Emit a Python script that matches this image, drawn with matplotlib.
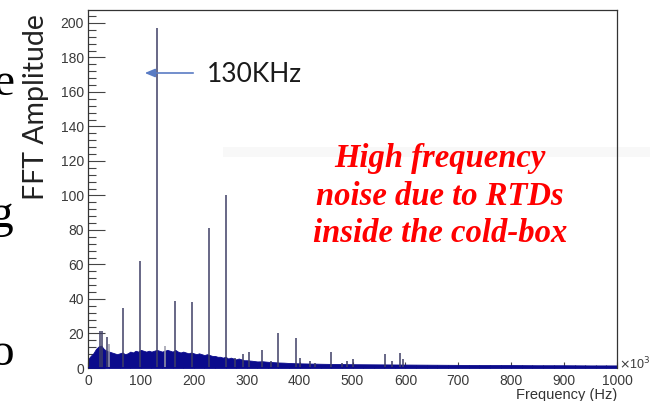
import matplotlib
matplotlib.use("Agg")
import matplotlib.pyplot as plt
from matplotlib.ticker import MultipleLocator
from matplotlib.patches import Rectangle

# ---- data (frequency in kHz, amplitude in FFT units) ----
peak_freq = [22, 27, 35, 40, 66, 98, 130, 145, 164, 197, 229, 261,
             277, 293, 305, 329, 345, 360, 393, 400, 419, 430, 459,
             480, 490, 501, 561, 574, 590, 595]
peak_amp = [21.5, 21.5, 18, 14, 35, 62, 197, 12.5, 39, 38, 81, 100,
            6, 8, 9, 10.5, 4, 20, 17.5, 6, 4, 3, 9.5,
            3, 4, 5, 8, 4, 8.5, 5]
peak_grey = [40, 145]

noise_freq = [0, 5, 10, 15, 20, 25, 30, 35, 40, 45, 50, 55, 60, 65, 70,
              75, 80, 85, 90, 95, 100, 105, 110, 115, 120, 125, 130, 135,
              140, 145, 150, 155, 160, 165, 170, 175, 180, 185, 190, 195,
              200, 205, 210, 215, 220, 225, 230, 235, 240, 245, 250, 255,
              260, 265, 270, 275, 280, 285, 290, 295, 300, 310, 320, 330,
              340, 350, 360, 370, 380, 390, 400, 450, 500, 550, 600, 650,
              700, 750, 800, 850, 900, 950, 1000]
noise_top = [5, 7, 8.5, 11, 12.5, 13, 11, 10, 9.5, 9, 8.5, 8, 8.5, 9, 8,
             8.5, 9.5, 9, 10, 9.5, 10.5, 10, 9.5, 10, 9.5, 10, 10.5, 10,
             9.5, 10, 10.5, 10, 9.5, 10.5, 9.5, 9, 9.5, 9, 8.5, 9,
             8.5, 8, 8.5, 8, 7.5, 8, 7.5, 7, 7, 6.5, 6.5, 6,
             6.5, 5.5, 6, 5.5, 5, 5.5, 5, 4.5, 4.5, 4.2, 3.8, 3.9,
             3.6, 3.4, 3.2, 3.1, 2.9, 2.8, 2.7, 2.4, 2.2, 2.1, 2.0, 1.9,
             1.8, 1.7, 1.7, 1.6, 1.6, 1.5, 1.5]

W, H = 650, 401
fig = plt.figure(figsize=(W / 100, H / 100), dpi=100)
ax = fig.add_axes([88 / W, (H - 368) / H, (617 - 88) / W, (368 - 10) / H])
ax.set_facecolor("none")

# faint band behind the annotation
fig.patches.append(Rectangle((223 / W, (H - 157) / H), (W - 223) / W, 10 / H,
                             transform=fig.transFigure, color="#f8f8f8",
                             zorder=-5, lw=0))

# noise floor
ax.fill_between(noise_freq, 0, noise_top, color="#0b0b8c", lw=0.6,
                edgecolor="#0b0b8c", zorder=2)

# spectral lines
for f, a in zip(peak_freq, peak_amp):
    col = "#9a9aa8" if f in peak_grey else "#3f3f66"
    ax.vlines(f, 0, a, color=col, lw=1.1, zorder=3)

ax.set_xlim(0, 1000)
ax.set_ylim(0, 207.5)

ax.xaxis.set_major_locator(MultipleLocator(100))
ax.xaxis.set_minor_locator(MultipleLocator(20))
ax.yaxis.set_major_locator(MultipleLocator(20))
ax.yaxis.set_minor_locator(MultipleLocator(4))

ax.tick_params(axis="y", which="major", direction="in", length=12, width=0.8,
               color="#444444", labelsize=10, labelcolor="#3a3a3a", pad=3)
ax.tick_params(axis="y", which="minor", direction="in", length=6, width=0.8,
               color="#444444")
ax.tick_params(axis="x", which="major", direction="in", length=4, width=0.8,
               color="#444444", labelsize=10, labelcolor="#3a3a3a", pad=4)
ax.tick_params(axis="x", which="minor", direction="in", length=2.5, width=0.8,
               color="#444444")
for lab in ax.get_xticklabels() + ax.get_yticklabels():
    lab.set_family("Liberation Sans")

for s in ax.spines.values():
    s.set_color("#333333")
    s.set_linewidth(0.9)
ax.spines["bottom"].set_visible(False)
ax.axhline(0, color="#0b0b8c", lw=1.4, zorder=4)

# axis texts
fig.text(617 / W, (H - 395) / H, "Frequency (Hz)", ha="right", va="center",
         fontsize=10.5, family="Liberation Sans", color="#333333")
fig.text(619 / W, (H - 364) / H, r"$\times$10$^{3}$", ha="left", va="center",
         fontsize=9, family="Liberation Sans", color="#3a3a3a")
fig.text(36 / W, (H - 107) / H, "FFT Amplitude", rotation=90, ha="center",
         va="center", fontsize=20.5, family="Lato", color="#222222")

# annotation of the main line
ax.annotate("", xy=(142 / W, (H - 73) / H), xytext=(196 / W, (H - 73) / H),
            xycoords="figure fraction", textcoords="figure fraction",
            arrowprops=dict(arrowstyle="-|>,head_length=0.6,head_width=0.25",
                            color="#5a7cc4", lw=1.2))
fig.text(207 / W, (H - 74) / H, "130KHz", ha="left", va="center",
         fontsize=19, family="Lato", color="#1a1a1a")

red_lines = ["High frequency", "noise due to RTDs", "inside the cold-box"]
for i, t in enumerate(red_lines):
    fig.text(440 / W, (H - (159 + 37.5 * i)) / H, t, ha="center", va="center",
             fontsize=23.5, family="Liberation Serif", weight="bold",
             style="italic", color="#ff0000")

# slide text running in from the left border
for ch, y in [("e", 84), ("g", 216), ("o", 354)]:
    fig.text(14 / W, (H - y) / H, ch, ha="right", va="center", fontsize=34,
             family="Liberation Serif", color="#000000")

fig.savefig("out.png", dpi=100)
